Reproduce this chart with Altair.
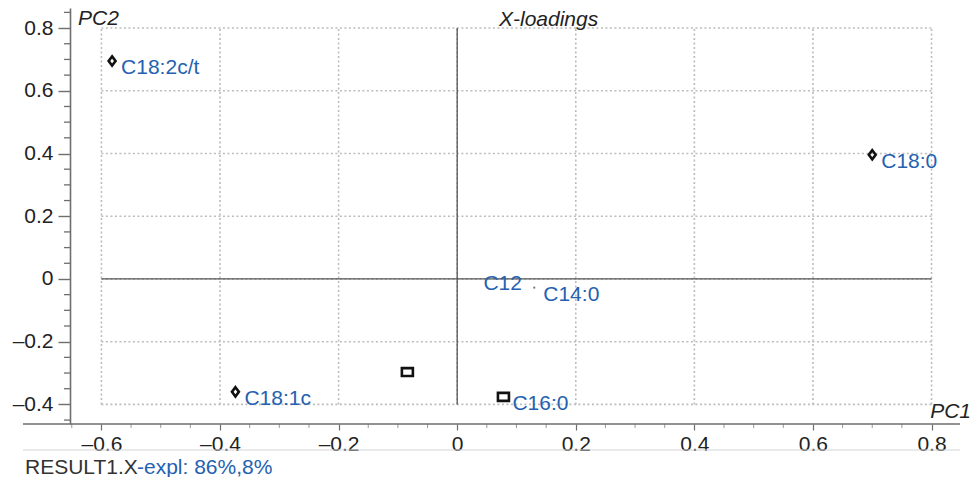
import altair as alt
import pandas as pd

# ---- data ----
names = ["C18:2c/t", "C18:0", "C18:1c", "", "C16:0", "C14:0", "C12"]
pc1 = [-0.582, 0.700, -0.374, -0.084, 0.078, 0.130, 0.029]
pc2 = [0.695, 0.396, -0.360, -0.297, -0.376, -0.028, 0.006]

x_ticks = [-0.6, -0.4, -0.2, 0.0, 0.2, 0.4, 0.6, 0.8]
y_ticks = [-0.4, -0.2, 0.0, 0.2, 0.4, 0.6, 0.8]
x_minor = [-0.65, -0.55, -0.5, -0.45, -0.35, -0.3, -0.25, -0.15, -0.1, -0.05,
           0.05, 0.1, 0.15, 0.25, 0.3, 0.35, 0.45, 0.5, 0.55, 0.65, 0.7, 0.75]
y_minor = [-0.45, -0.35, -0.3, -0.25, -0.15, -0.1, -0.05, 0.05, 0.1, 0.15,
           0.25, 0.3, 0.35, 0.45, 0.5, 0.55, 0.65, 0.7, 0.75, 0.85]

title_text = "X-loadings"
x_title = "PC1"
y_title = "PC2"
footer_a = "RESULT1.X"
footer_b = "-expl: 86%,8%"

# ---- styling ----
FONT = "Liberation Sans"
BLUE = "#2461b0"
AX = "#6e6e6e"
XDOM = [-0.653, 0.848]
YDOM = [-0.4625, 0.864]
W, H = 890, 416

marker_of = {"C18:2c/t": "diamond", "C18:0": "diamond", "C18:1c": "diamond",
             "": "square", "C16:0": "square", "C14:0": "dot", "C12": "none"}

pts = pd.DataFrame({"name": names, "pc1": pc1, "pc2": pc2})
pts["marker"] = pts["name"].map(marker_of)

xs = alt.Scale(domain=XDOM, nice=False, zero=False)
ys = alt.Scale(domain=YDOM, nice=False, zero=False)

label_expr = ("datum.value == 0 ? '0' : replace(replace(format(datum.value, '.1f'), '\u2212', '\u2013'), '-', '\u2013')")

x_axis = alt.Axis(values=x_ticks, labelExpr=label_expr, grid=False, domain=False,
                  ticks=True, tickSize=6, tickColor=AX, tickWidth=1.2,
                  labelFont=FONT, labelFontSize=21, labelColor="#222",
                  labelPadding=3, labelOverlap=False, title=None)
y_axis = alt.Axis(values=y_ticks, labelExpr=label_expr, grid=False, domain=True,
                  domainColor=AX, domainWidth=1.6,
                  ticks=True, tickSize=12, tickColor=AX, tickWidth=1.4,
                  labelFont=FONT, labelFontSize=21, labelColor="#222",
                  labelPadding=5, labelOverlap=False, title=None)


def X(f):
    return alt.X(f, scale=xs)


def Y(f):
    return alt.Y(f, scale=ys)


# axis-carrying layer (invisible marks)
axes_layer = alt.Chart(pts).mark_point(opacity=0).encode(
    x=alt.X("pc1:Q", scale=xs, axis=x_axis),
    y=alt.Y("pc2:Q", scale=ys, axis=y_axis),
)

# grid (dotted, only inside the tick box)
gx = pd.DataFrame({"x": x_ticks, "y": min(y_ticks), "y2": max(y_ticks)})
gy = pd.DataFrame({"y": y_ticks, "x": min(x_ticks), "x2": max(x_ticks)})

grid_v = alt.Chart(gx).mark_rule(color="#bcbcbc", strokeWidth=1.6, strokeDash=[2, 2.5]).encode(
    x=X("x:Q"), y=Y("y:Q"), y2="y2:Q")
grid_h = alt.Chart(gy).mark_rule(color="#bcbcbc", strokeWidth=1.6, strokeDash=[2, 2.5]).encode(
    y=Y("y:Q"), x=X("x:Q"), x2="x2:Q")

# cross hair through origin
cv = pd.DataFrame({"x": [0.0], "y": [min(y_ticks)], "y2": [max(y_ticks)]})
ch = pd.DataFrame({"y": [0.0], "x": [min(x_ticks)], "x2": [max(x_ticks)]})
cross_v = alt.Chart(cv).mark_rule(color="#555555", strokeWidth=1.3).encode(
    x=X("x:Q"), y=Y("y:Q"), y2="y2:Q")
cross_h = alt.Chart(ch).mark_rule(color="#555555", strokeWidth=1.3).encode(
    y=Y("y:Q"), x=X("x:Q"), x2="x2:Q")

# minor ticks
ymin_ticks = alt.Chart(pd.DataFrame({"y": y_minor})).mark_rule(color=AX, strokeWidth=1.3).encode(
    y=Y("y:Q"), x=alt.value(-6), x2=alt.value(0))
xmin_ticks = alt.Chart(pd.DataFrame({"x": x_minor})).mark_rule(color="#9a9a9a", strokeWidth=1).encode(
    x=X("x:Q"), y=alt.value(H), y2=alt.value(H + 4))

# x axis baseline (extends left past the y axis) and faint footer separator
x_base = alt.Chart(pd.DataFrame({"a": [0]})).mark_rule(color=AX, strokeWidth=1.6).encode(
    x=alt.value(-47), x2=alt.value(W), y=alt.value(H))
sep = alt.Chart(pd.DataFrame({"a": [0]})).mark_rule(color="#d6d6d6", strokeWidth=1.2).encode(
    x=alt.value(-47), x2=alt.value(W), y=alt.value(H + 26))

# markers
diamond_path = "M0,-1L0.75,0L0,1L-0.75,0Z"
square_path = "M-1,-0.72L1,-0.72L1,0.72L-1,0.72Z"

base = alt.Chart(pts).encode(x=X("pc1:Q"), y=Y("pc2:Q"))
diamonds = base.transform_filter("datum.marker == 'diamond'").mark_point(
    shape=diamond_path, size=85, filled=False, color="#111", strokeWidth=2.6, opacity=1)
squares = base.transform_filter("datum.marker == 'square'").mark_point(
    shape=square_path, size=121, filled=False, color="#111", strokeWidth=2.6, opacity=1)
dots = base.transform_filter("datum.marker == 'dot'").mark_point(
    shape="circle", size=5, filled=True, color="#777", opacity=1)
labels = base.transform_filter("datum.name != ''").mark_text(
    align="left", baseline="middle", dx=9, dy=7, font=FONT, fontSize=21, color=BLUE
).encode(text="name:N")


# annotations
def ann(txt, x, y, align="left", italic=False, color="#222"):
    return alt.Chart(pd.DataFrame({"a": [0]})).mark_text(
        text=txt, align=align, baseline="alphabetic", font=FONT, fontSize=21,
        fontStyle="italic" if italic else "normal", color=color
    ).encode(x=alt.value(x), y=alt.value(y))


t_title = ann(title_text, 429, 18, italic=True)
t_pc2 = ann(y_title, 8, 17, italic=True)
t_pc1 = ann(x_title, 901, 410, align="right", italic=True)
t_fa = ann(footer_a, -45, 466, color="#333")
t_fb = ann(footer_b, 67, 466, color=BLUE)

chart = alt.layer(
    axes_layer, grid_v, grid_h, cross_v, cross_h, ymin_ticks, xmin_ticks, x_base, sep,
    diamonds, squares, dots, labels, t_title, t_pc2, t_pc1, t_fa, t_fb
).properties(
    width=W, height=H,
    autosize=alt.AutoSizeParams(type="none"),
    padding={"left": 62, "top": 0, "right": 11, "bottom": 53},
).configure_view(stroke=None)

chart.save("out.html", embed_options={"renderer": "svg", "actions": False})
